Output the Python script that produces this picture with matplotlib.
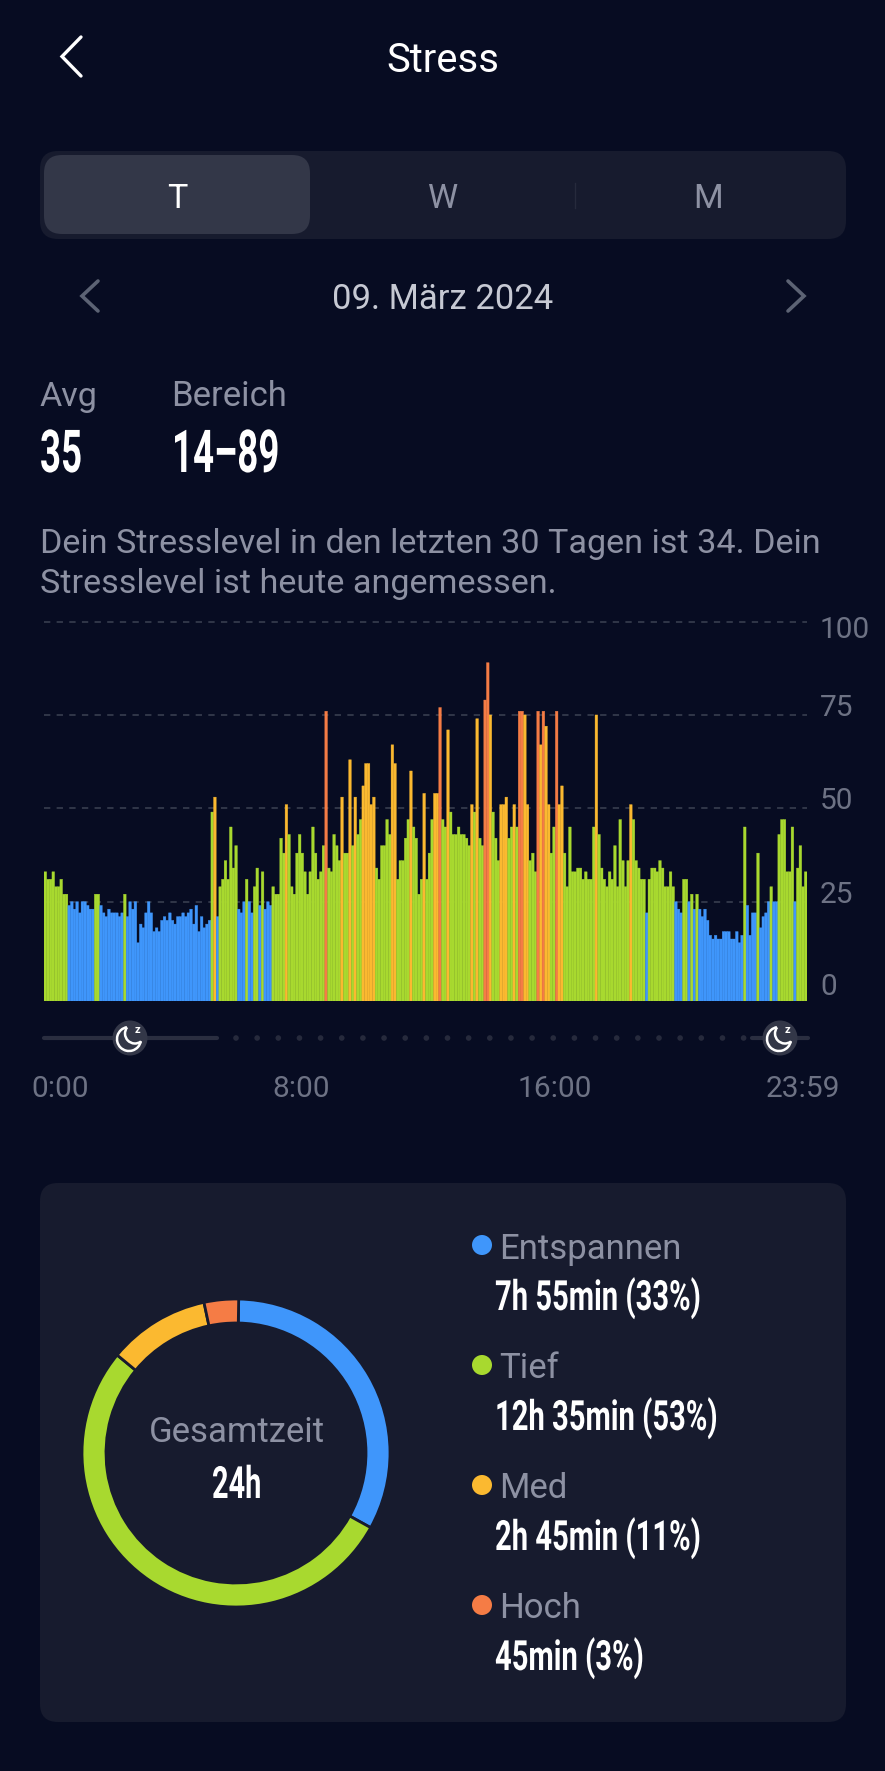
import matplotlib
matplotlib.use("Agg")
import numpy as np
import matplotlib.pyplot as plt
from matplotlib.patches import FancyBboxPatch, Circle, Arc
from matplotlib.patheffects import AbstractPathEffect
from matplotlib.transforms import Affine2D

W, H = 885, 1771

BG = "#070c22"
CARD = "#171b2e"
SELECTED = "#333748"
GRAY = "#8d91a3"
AXIS_GRAY = "#6d7284"
BLUE = "#3f96fb"
GREEN = "#a8d92f"
YELLOW = "#fbb930"
ORANGE = "#f57c45"

# stress value per 5 minute slot
stress = [
    33, 31, 31, 33, 29, 29, 31, 27, 27, 24, 25, 23, 25, 22, 25, 25, 24, 23, 23, 27, 27,
    24, 22, 21, 23, 22, 22, 22, 21, 22, 27, 21, 25, 23, 25, 14, 19, 18, 22, 25, 22, 17,
    18, 17, 20, 21, 20, 22, 20, 19, 21, 21, 22, 21, 22, 23, 19, 24, 17, 21, 18, 19, 20,
    49, 53, 21, 29, 31, 36, 31, 45, 34, 40, 23, 22, 25, 31, 25, 22, 29, 34, 24, 33, 23,
    25, 24, 29, 27, 27, 42, 38, 51, 43, 29, 27, 38, 43, 38, 33, 27, 33, 45, 38, 31, 33,
    40, 76, 34, 33, 43, 40, 36, 53, 38, 38, 63, 40, 53, 43, 47, 56, 62, 62, 51, 53, 34,
    31, 40, 40, 47, 43, 67, 62, 31, 36, 36, 42, 47, 60, 45, 42, 27, 31, 54, 31, 38, 47,
    54, 54, 77, 47, 45, 71, 49, 43, 43, 45, 43, 43, 42, 40, 51, 49, 74, 42, 40, 79, 89,
    75, 49, 42, 36, 51, 51, 53, 42, 45, 51, 45, 76, 76, 75, 51, 36, 38, 33, 76, 67, 76,
    72, 51, 38, 45, 76, 51, 56, 38, 29, 45, 33, 33, 34, 34, 31, 33, 31, 31, 45, 75, 43,
    34, 31, 29, 33, 31, 40, 29, 47, 36, 29, 36, 51, 47, 36, 34, 31, 31, 22, 31, 34, 34,
    33, 36, 34, 29, 29, 33, 29, 25, 23, 22, 31, 31, 25, 27, 23, 27, 23, 21, 23, 20, 16,
    15, 16, 15, 15, 17, 17, 17, 15, 15, 17, 14, 16, 45, 24, 16, 22, 22, 38, 18, 21, 22,
    25, 29, 25, 25, 43, 47, 47, 33, 33, 45, 25, 34, 40, 29, 33,
]
grid_values = [25, 50, 75, 100]
y_labels = ["0", "25", "50", "75", "100"]
x_labels = ["0:00", "8:00", "16:00", "23:59"]
zones = ["Entspannen", "Tief", "Med", "Hoch"]
# ring segments in degrees as drawn in the picture
zone_arcs = [118, 190.5, 38.5, 13]
zone_texts = ["7h 55min (33%)", "12h 35min (53%)", "2h 45min (11%)", "45min (3%)"]
zone_colors = [BLUE, GREEN, YELLOW, ORANGE]


class Narrow(AbstractPathEffect):
    # squeezes a text sideways, no condensed bold font is installed
    def __init__(self, sx):
        super().__init__()
        self.sx = sx

    def draw_path(self, renderer, gc, tpath, affine, rgbFace=None):
        renderer.draw_path(gc, tpath, Affine2D().scale(self.sx, 1) + affine, rgbFace)


def bar_color(v):
    if v <= 25:
        return BLUE
    if v <= 50:
        return GREEN
    if v <= 75:
        return YELLOW
    return ORANGE


def axes_px(fig, x0, y0, x1, y1, **kw):
    return fig.add_axes([x0 / W, 1 - y1 / H, (x1 - x0) / W, (y1 - y0) / H], **kw)


REG = "Roboto"

fig = plt.figure(figsize=(W / 100, H / 100), dpi=100, facecolor=BG)

# whole page in pixels for the app furniture
ui = axes_px(fig, 0, 0, W, H)
ui.set_xlim(0, W)
ui.set_ylim(H, 0)
ui.axis("off")


def box(x0, y0, x1, y1, color, r):
    ui.add_patch(FancyBboxPatch((x0 + r, y0 + r), x1 - x0 - 2 * r, y1 - y0 - 2 * r,
                                boxstyle=f"round,pad={r},rounding_size={r}",
                                fc=color, ec="none"))


def chevron(x_tip, x_end, y0, y1, color, lw):
    ui.plot([x_end, x_tip, x_end], [y0, (y0 + y1) / 2, y1], color=color, lw=lw,
            solid_capstyle="round", solid_joinstyle="miter")


def moon(cx, cy):
    ui.add_patch(Circle((cx, cy), 17.5, fc=SELECTED, ec="none", zorder=3))
    ui.add_patch(Arc((cx - 1, cy + 1), 24, 24, theta1=10, theta2=260, ec="white", lw=1.8, zorder=4))
    ui.add_patch(Arc((cx + 5, cy - 4.5), 20, 20, theta1=53, theta2=218, ec="white", lw=1.8, zorder=4))
    ui.text(cx + 7, cy - 8, "z", color="white", fontsize=8, fontweight="bold", family=REG,
            ha="center", va="center", zorder=4)


def bold(x, y, s, size, sx):
    ui.text(x, y, s, color="white", fontsize=size, family=REG, fontweight="bold", va="baseline",
            path_effects=[Narrow(sx)])


# header
chevron(62, 81, 37, 76, "white", 2.4)
ui.text(443, 60, "Stress", color="white", fontsize=28.8, family=REG, ha="center", va="center")

# tabs
box(40, 151, 846, 239, CARD, 18)
box(44, 155, 310, 234, SELECTED, 18)
ui.plot([575, 575], [183, 208], color="#262a3c", lw=1)
ui.text(177, 199, "T", color="white", fontsize=24.5, family=REG, ha="center", va="center")
ui.text(443, 199, "W", color=GRAY, fontsize=24.5, family=REG, ha="center", va="center")
ui.text(708, 199, "M", color=GRAY, fontsize=24.5, family=REG, ha="center", va="center")

# date row
chevron(82, 98, 281, 311, "#5c6374", 2.6)
chevron(804, 788, 281, 311, "#5c6374", 2.6)
ui.text(443, 299, "09. März 2024", color="#c6c9d3", fontsize=24.9, family=REG, ha="center", va="center")

# average and range
ui.text(40, 406, "Avg", color=GRAY, fontsize=24.6, family=REG, va="baseline")
ui.text(171, 406, "Bereich", color=GRAY, fontsize=24.9, family=REG, va="baseline")
bold(40, 472, "35", 42.6, 0.62)
bold(172, 472, "14–89", 42.6, 0.62)

ui.text(40, 553, "Dein Stresslevel in den letzten 30 Tagen ist 34. Dein", color=GRAY, fontsize=24.6,
        family=REG, va="baseline")
ui.text(40, 593, "Stresslevel ist heute angemessen.", color=GRAY, fontsize=24.6, family=REG, va="baseline")

# bar chart
ax = axes_px(fig, 44, 621.6, 807, 1001, facecolor="none")
base = -1.6
n = len(stress)
bar_cols = [bar_color(v) for v in stress]
ax.bar(np.arange(n), np.array(stress) - base, width=1, bottom=base, align="edge",
       color=bar_cols, edgecolor=bar_cols, linewidth=0.25, snap=False, zorder=2)
ax.set_xlim(0, n)
ax.set_ylim(base, 100)
for g in grid_values:
    ax.axhline(g, color="#343a4c", lw=1.3, dashes=(3.5, 3.5), zorder=1, clip_on=False)
ax.axis("off")

for lab, y in zip(y_labels, [987, 895, 801, 708, 630]):
    ui.text(820, y, lab, color=AXIS_GRAY, fontsize=21.5, family=REG, va="center")
for lab, x in zip(x_labels, [60, 301, 555, 803]):
    ui.text(x, 1089, lab, color=AXIS_GRAY, fontsize=21.5, family=REG, ha="center", va="center")

# sleep strip
ui.plot([44, 217], [1038, 1038], color="#2a2e40", lw=3, solid_capstyle="round")
ui.plot([752, 808], [1038, 1038], color="#2a2e40", lw=3, solid_capstyle="round")
for k in range(25):
    ui.add_patch(Circle((236 + 21.15 * k, 1038), 2.8, fc="#262a3c", ec="none"))
moon(130, 1038)
moon(780, 1038)

# summary card
box(40, 1183, 846, 1722, CARD, 18)

donut = axes_px(fig, 82, 1299, 390, 1607, facecolor="none")
donut.pie(zone_arcs, colors=zone_colors, startangle=89, counterclock=False, radius=1,
          wedgeprops={"width": 24 / 154, "edgecolor": CARD, "linewidth": 2})
donut.set_xlim(-1, 1)
donut.set_ylim(-1, 1)

ui.text(237, 1432, "Gesamtzeit", color=GRAY, fontsize=25, family=REG, ha="center", va="center")
bold(212, 1498, "24h", 32, 0.65)

for i, (name, txt, col) in enumerate(zip(zones, zone_texts, zone_colors)):
    y = 1245 + 120 * i
    ui.add_patch(Circle((482, y), 10, fc=col, ec="none"))
    ui.text(499, y + 4, name, color=GRAY, fontsize=25, family=REG, va="center")
    bold(495, y + 65, txt, 30, 0.70)

fig.savefig("out.png", dpi=100, facecolor=BG)
